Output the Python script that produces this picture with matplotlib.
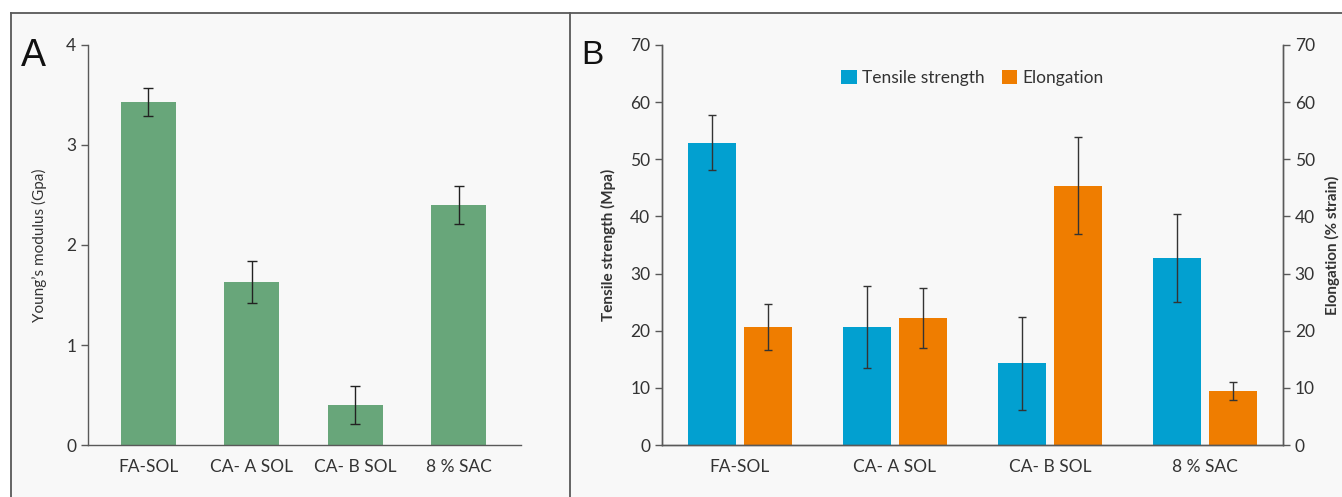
import numpy as np
import matplotlib
matplotlib.use("Agg")
from matplotlib import pyplot as plt
from matplotlib.lines import Line2D
from matplotlib.patches import Rectangle

plt.rcParams['font.family'] = ['Lato', 'DejaVu Sans']

categories = ["FA-SOL", "CA- A SOL", "CA- B SOL", "8 % SAC"]

# panel A: Young's modulus (GPa)
modulus = [3.43, 1.63, 0.40, 2.40]
modulus_err = [0.14, 0.21, 0.19, 0.19]

# panel B: tensile strength (MPa) and elongation (% strain)
tensile = [52.9, 20.7, 14.3, 32.7]
tensile_err = [4.8, 7.2, 8.1, 7.7]
elongation = [20.7, 22.2, 45.4, 9.4]
elongation_err = [4.0, 5.2, 8.5, 1.6]

W, H = 1342, 497
fig = plt.figure(figsize=(W / 100, H / 100), dpi=100)
fig.patch.set_facecolor("white")

bg = "#f8f8f8"
line_col = "#595959"
green = "#68a67a"
blue = "#02a0d0"
orange = "#ef7d00"

# panel background and frame lines
fig.add_artist(Rectangle((11 / W, 0), 1 - 11 / W, 1 - 13 / H,
                         transform=fig.transFigure, color=bg, zorder=0))
fig.add_artist(Line2D([11 / W, 1], [1 - 13 / H, 1 - 13 / H], color=line_col, lw=1.3))
fig.add_artist(Line2D([11 / W, 11 / W], [0, 1 - 13 / H], color=line_col, lw=1.3))
fig.add_artist(Line2D([570 / W, 570 / W], [0, 1 - 13 / H], color=line_col, lw=1.3))


def style_axis(ax):
    ax.set_facecolor("none")
    for s in ax.spines.values():
        s.set_color(line_col)
        s.set_linewidth(1.0)
    ax.tick_params(axis="y", direction="out", length=5, width=1, color=line_col,
                   labelsize=12.5, labelcolor="#333333")
    ax.tick_params(axis="x", length=0, labelsize=12.5, labelcolor="#333333", pad=10)


# ---- panel A ----
axA = fig.add_axes([88 / W, 1 - 445 / H, (521 - 88) / W, 400 / H])
x = np.arange(len(categories))
axA.bar(x, modulus, width=0.53, color=green, zorder=2)
axA.errorbar(x, modulus, yerr=modulus_err, fmt="none", ecolor="#222222",
             elinewidth=1, capsize=3.5, capthick=1, zorder=3)
axA.set_xlim(-0.58, 3.6)
axA.set_ylim(0, 4)
axA.set_yticks([0, 1, 2, 3, 4])
axA.set_xticks(x)
axA.set_xticklabels(categories)
axA.spines["top"].set_visible(False)
axA.spines["right"].set_visible(False)
style_axis(axA)
axA.set_ylabel("Young\u2019s modulus (Gpa)", fontsize=11, color="#333333", labelpad=14)
fig.text(21 / W, 1 - 56 / H, "A", fontsize=27, family="Liberation Sans",
         va="center", ha="left", color="#111111")

# ---- panel B ----
axB = fig.add_axes([662 / W, 1 - 445 / H, (1283 - 662) / W, 400 / H])
w = 0.31
off = 0.18
axB.bar(x - off, tensile, width=w, color=blue, label="Tensile strength", zorder=2)
axB.errorbar(x - off, tensile, yerr=tensile_err, fmt="none", ecolor="#333333",
             elinewidth=1, capsize=3, capthick=1, zorder=3)
axB.bar(x + off, elongation, width=w, color=orange, label="Elongation", zorder=2)
axB.errorbar(x + off, elongation, yerr=elongation_err, fmt="none", ecolor="#333333",
             elinewidth=1, capsize=3, capthick=1, zorder=3)
axB.set_xlim(-0.5, 3.5)
axB.set_ylim(0, 70)
axB.set_yticks(np.arange(0, 71, 10))
axB.set_xticks(x)
axB.set_xticklabels(categories)
axB.spines["top"].set_visible(False)
style_axis(axB)
axB.set_ylabel("Tensile strength (Mpa)", fontsize=11, color="#333333",
               fontweight="bold", labelpad=10)
axB.legend(loc="center", bbox_to_anchor=(0.5, 0.918), ncol=2, frameon=False,
           fontsize=12.5, handlelength=0.9, handleheight=0.9, handletextpad=0.3,
           columnspacing=1.0, labelcolor="#333333")

axB2 = axB.twinx()
axB2.set_ylim(0, 70)
axB2.set_yticks(np.arange(0, 71, 10))
axB2.spines["top"].set_visible(False)
style_axis(axB2)
axB2.set_ylabel("Elongation (% strain)", fontsize=11, color="#333333",
                fontweight="bold", labelpad=7)
fig.text(581 / W, 1 - 56 / H, "B", fontsize=24, family="Liberation Sans",
         va="center", ha="left", color="#111111")

fig.savefig("out.png", dpi=100, facecolor=fig.get_facecolor())
